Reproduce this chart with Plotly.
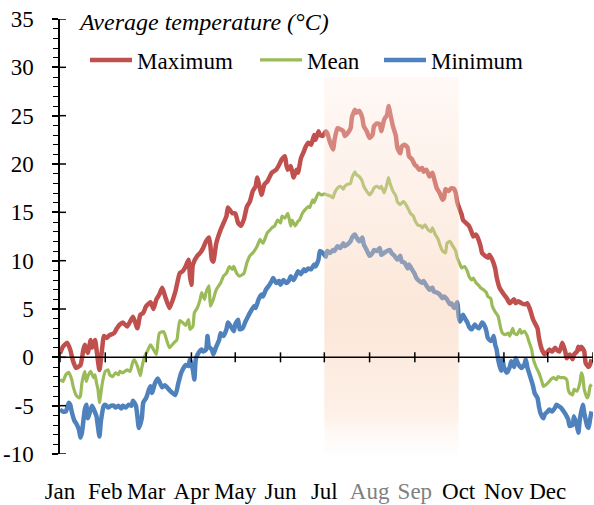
import plotly.graph_objects as go

# ---------------- data ----------------
max_days = [0, 2, 5, 7, 9, 11, 14, 16, 17, 19,
            21, 22, 24, 25, 27, 29, 30, 32, 34, 37,
            39, 41, 43, 46, 48, 50, 53, 55, 57, 59,
            62, 64, 66, 68, 70, 72, 75, 79, 82, 84,
            86, 88, 89, 90, 91, 94, 96, 98, 100, 102,
            103, 104, 105, 107, 110, 112, 114, 115, 118, 120,
            122, 124, 126, 128, 130, 132, 134, 135, 137, 138,
            140, 142, 145, 146, 148, 150, 152, 154, 155, 156,
            158, 160, 162, 163, 165, 167, 168, 170, 172, 174,
            175, 177, 178, 180, 182, 183, 185, 187, 188, 190,
            192, 194, 195, 197, 199, 200, 202, 203, 205, 207,
            208, 210, 212, 214, 215, 217, 219, 220, 222, 224,
            225, 226, 228, 230, 231, 233, 234, 236, 238, 239,
            241, 243, 244, 246, 248, 249, 251, 253, 255, 256,
            258, 260, 262, 263, 264, 266, 268, 270, 271, 272,
            273, 275, 276, 278, 280, 282, 283, 285, 286, 288,
            289, 291, 293, 294, 296, 298, 299, 301, 304, 306,
            308, 311, 312, 314, 316, 319, 320, 322, 324, 327,
            328, 330, 332, 334, 335, 337, 339, 340, 342, 344,
            346, 347, 349, 351, 352, 354, 355, 356, 357, 359,
            360, 362, 363, 364]
max_vals = [0.4, 1.1, 1.5, 0.8, -0.4, -1.1, -0.8, 0.8, 1.3, 0.45,
            1.8, 1.0, 1.8, 0.8, -1.3, 1.1, 2.2, 2.0, 2.3, 2.5,
            3.0, 3.4, 3.6, 3.2, 3.7, 4.2, 3.0, 4.4, 4.6, 5.3,
            5.7, 5.0, 6.0, 6.5, 7.2, 6.3, 5.1, 6.8, 8.7, 8.9,
            9.4, 10.1, 8.4, 7.5, 9.6, 10.5, 10.8, 11.3, 12.0, 12.4,
            11.5, 10.1, 9.9, 11.8, 13.2, 13.9, 14.6, 15.5, 14.9, 14.9,
            13.9, 13.6, 14.3, 15.6, 16.1, 17.2, 17.7, 18.6, 17.4, 16.8,
            17.9, 18.2, 19.1, 19.2, 19.4, 19.9, 20.5, 20.8, 19.9, 19.4,
            19.8, 18.6, 19.4, 19.1, 20.6, 21.3, 21.7, 22.2, 22.0, 23.0,
            22.5, 23.4, 23.0, 22.9, 23.4, 23.2, 22.2, 21.5, 22.5, 23.7,
            23.6, 23.4, 22.9, 23.2, 23.7, 24.9, 25.6, 25.3, 25.5, 24.8,
            23.9, 23.4, 22.7, 23.0, 23.9, 24.2, 24.1, 23.4, 24.6, 25.1,
            26.0, 25.3, 23.9, 22.9, 21.7, 21.1, 21.8, 22.0, 21.7, 20.8,
            20.5, 19.9, 19.8, 19.4, 19.6, 19.2, 19.4, 18.7, 19.1, 18.6,
            17.5, 17.0, 16.3, 16.5, 17.4, 17.2, 17.5, 17.4, 17.0, 16.1,
            15.6, 14.8, 14.2, 13.9, 13.6, 12.9, 12.5, 12.7, 12.4, 11.5,
            10.8, 10.5, 10.3, 10.6, 10.1, 9.2, 8.3, 7.2, 6.5, 6.1,
            5.6, 6.0, 5.6, 5.8, 5.6, 5.5, 5.6, 4.9, 3.9, 3.0,
            2.0, 0.8, 0.3, 0.6, 0.8, 0.6, 1.0, 0.8, 0.6, 1.5,
            0.6, -0.1, 0.3, -0.2, 0.3, 0.6, 1.1, 0.8, 1.1, 0.6,
            -0.6, -1.0, -0.75, -0.2]

mean_days = [0, 2, 4, 6, 8, 9, 11, 13, 14, 15,
             17, 18, 19, 21, 23, 24, 25, 26, 27, 29,
             31, 33, 34, 36, 38, 40, 41, 43, 46, 48,
             50, 51, 53, 55, 56, 58, 60, 62, 64, 66,
             68, 71, 73, 75, 78, 80, 82, 84, 86, 88,
             89, 91, 92, 94, 96, 97, 99, 100, 102, 103,
             105, 107, 110, 112, 114, 116, 118, 119, 121, 123,
             126, 128, 130, 132, 135, 137, 139, 142, 144, 145,
             147, 149, 151, 152, 154, 156, 158, 159, 161, 163,
             164, 166, 168, 170, 171, 173, 174, 176, 177, 179,
             181, 183, 185, 187, 188, 190, 192, 194, 195, 197,
             199, 200, 202, 203, 205, 207, 208, 210, 212, 214,
             215, 217, 219, 220, 222, 224, 225, 226, 228, 230,
             231, 233, 235, 236, 238, 240, 242, 243, 245, 247,
             248, 250, 252, 254, 255, 257, 259, 260, 262, 264,
             265, 267, 269, 271, 272, 274, 275, 277, 279, 280,
             282, 283, 285, 287, 288, 290, 292, 293, 295, 296,
             298, 300, 302, 303, 305, 307, 308, 310, 311, 313,
             315, 316, 318, 320, 321, 323, 324, 326, 328, 330,
             331, 333, 335, 336, 338, 340, 341, 343, 345, 347,
             348, 349, 351, 352, 354, 356, 357, 358, 359, 361,
             362, 363, 364]
mean_vals = [-2.3, -2.5, -1.8, -1.55, -2.3, -3.0, -3.9, -4.2, -4.0, -2.65,
             -1.45, -2.5, -2.0, -1.45, -2.1, -1.8, -2.65, -3.3, -4.7, -2.65,
             -1.45, -1.3, -1.8, -2.0, -1.6, -1.8, -1.45, -1.6, -1.3, -1.45,
             -0.4, -0.25, -0.9, -1.9, -1.1, 0.1, 0.7, 1.3, 0.8, 0.3,
             2.5, 2.65, 1.8, 1.0, 1.5, 1.8, 3.8, 3.6, 3.3, 3.9,
             2.9, 3.2, 4.6, 5.1, 6.0, 6.7, 6.0, 6.7, 7.4, 5.3,
             6.0, 7.0, 7.7, 8.4, 8.7, 9.4, 9.1, 9.4, 8.7, 8.4,
             8.7, 9.8, 10.5, 10.8, 11.5, 12.2, 11.8, 12.9, 13.2, 13.4,
             13.6, 14.2, 13.9, 14.6, 14.4, 14.9, 13.6, 14.2, 13.6, 14.1,
             14.2, 14.9, 15.3, 15.6, 15.5, 16.3, 16.0, 16.7, 17.0, 16.8,
             16.9, 16.8, 16.7, 16.5, 17.0, 17.5, 17.7, 17.4, 17.7, 17.9,
             18.0, 18.6, 19.2, 18.9, 18.7, 18.2, 17.7, 17.2, 16.8, 17.2,
             17.5, 17.7, 17.5, 17.7, 17.0, 18.0, 18.6, 18.0, 17.2, 16.7,
             16.1, 15.8, 16.1, 16.0, 15.5, 14.9, 14.6, 14.2, 13.7, 13.6,
             13.4, 13.7, 13.2, 13.0, 13.4, 12.7, 12.2, 11.7, 11.0, 10.8,
             11.8, 12.0, 11.5, 11.0, 10.3, 9.6, 9.25, 9.4, 8.9, 8.4,
             8.0, 8.2, 7.7, 7.4, 7.2, 7.0, 6.7, 6.3, 6.1, 5.3,
             4.7, 4.25, 2.9, 2.5, 2.35, 2.5, 2.2, 3.0, 2.5, 2.35,
             2.9, 2.5, 2.7, 2.2, 1.7, 0.8, -0.1, -1.0, -1.6, -2.5,
             -3.0, -2.8, -2.5, -2.3, -2.1, -2.3, -2.0, -2.1, -2.1, -2.3,
             -3.3, -3.7, -3.9, -3.3, -3.5, -2.65, -1.6, -2.0, -3.3, -4.2,
             -3.9, -3.0, -2.8]

min_days = [0, 2, 4, 6, 7, 8, 10, 11, 13, 14,
            15, 17, 18, 19, 21, 22, 24, 25, 27, 28,
            30, 31, 33, 35, 37, 38, 40, 42, 43, 45,
            47, 49, 50, 52, 53, 54, 56, 57, 59, 61,
            62, 63, 65, 67, 70, 72, 75, 79, 81, 83,
            86, 88, 89, 91, 92, 93, 95, 97, 98, 100,
            101, 102, 104, 105, 107, 109, 110, 112, 114, 115,
            117, 119, 120, 122, 123, 125, 127, 129, 130, 133,
            134, 136, 138, 139, 141, 143, 145, 146, 148, 150,
            151, 153, 155, 157, 158, 160, 162, 163, 165, 167,
            168, 170, 172, 174, 175, 177, 178, 180, 182, 183,
            185, 187, 188, 190, 192, 194, 195, 197, 199, 200,
            202, 203, 205, 207, 208, 210, 212, 214, 215, 217,
            219, 220, 222, 224, 226, 227, 229, 231, 233, 234,
            236, 238, 239, 241, 243, 244, 246, 248, 249, 251,
            253, 255, 256, 258, 260, 262, 263, 265, 267, 268,
            270, 272, 273, 274, 276, 277, 279, 280, 282, 284,
            285, 287, 289, 291, 292, 293, 295, 296, 297, 298,
            299, 300, 302, 303, 304, 306, 308, 309, 311, 312,
            314, 316, 318, 319, 320, 322, 324, 325, 327, 328,
            329, 331, 332, 334, 335, 337, 339, 340, 342, 343,
            345, 347, 348, 349, 351, 352, 354, 355, 356, 358,
            359, 361, 362, 363, 364]
min_vals = [-5.4, -5.6, -5.6, -4.7, -4.9, -5.6, -6.6, -6.8, -7.5, -8.3,
            -7.8, -5.4, -4.9, -6.3, -5.4, -5.0, -5.7, -6.1, -8.2, -6.6,
            -5.0, -4.9, -5.2, -5.0, -5.0, -5.2, -5.0, -5.3, -5.0, -5.2,
            -4.9, -5.0, -4.5, -5.0, -6.1, -7.3, -6.3, -4.7, -4.2, -3.3,
            -3.0, -3.7, -2.7, -2.2, -3.1, -2.9, -3.4, -3.9, -2.7, -1.6,
            -0.8, -0.9, -0.2, -1.3, -2.3, -0.2, 0.5, 0.8, 0.6, 0.8,
            2.2, 1.1, 0.8, 0.3, 1.1, 1.8, 2.5, 2.2, 2.9, 3.6,
            3.2, 2.7, 3.4, 3.9, 2.9, 3.0, 3.7, 4.3, 4.6, 5.3,
            5.1, 6.0, 6.5, 6.3, 7.0, 7.4, 7.9, 8.2, 7.7, 7.9,
            7.5, 8.0, 7.7, 8.0, 8.4, 8.0, 8.6, 8.9, 8.6, 9.1,
            8.9, 9.2, 9.1, 9.6, 9.4, 10.1, 11.0, 10.8, 10.4, 11.0,
            10.8, 11.1, 11.0, 11.5, 11.3, 11.8, 11.5, 11.7, 12.0, 12.4,
            12.7, 12.4, 12.0, 12.4, 11.7, 11.1, 10.5, 10.8, 11.1, 11.0,
            11.3, 10.6, 10.8, 11.0, 11.1, 10.8, 10.5, 10.1, 10.5, 9.9,
            9.8, 9.2, 9.6, 9.1, 8.6, 8.2, 7.9, 7.7, 7.9, 7.4,
            7.0, 7.2, 6.8, 6.7, 6.5, 6.1, 6.3, 6.0, 5.5, 5.6,
            5.1, 5.7, 4.25, 3.7, 4.4, 4.1, 3.6, 3.2, 2.9, 3.4,
            3.2, 3.0, 3.6, 3.2, 2.7, 2.0, 1.7, 1.8, 2.2, 1.3,
            0.8, -0.2, -1.4, -0.2, -1.0, -1.6, -1.0, -0.4, -1.0, -0.1,
            -0.75, -1.1, -0.75, -0.2, -1.0, -2.0, -3.0, -3.7, -4.2, -5.1,
            -5.75, -6.3, -5.9, -5.6, -5.4, -5.6, -5.2, -4.9, -5.1, -5.2,
            -5.6, -6.1, -6.4, -7.1, -7.0, -6.1, -7.1, -7.8, -6.4, -4.9,
            -5.75, -7.1, -7.3, -6.4, -5.6]

month_starts = [0, 31, 59, 90, 120, 151, 181, 212, 243, 273, 304, 334, 365]
month_labels = ["Jan", "Feb", "Mar", "Apr", "May", "Jun",
                "Jul", "Aug", "Sep", "Oct", "Nov", "Dec"]
grey_months = ["Aug", "Sep"]
y_ticks = [-10, -5, 0, 5, 10, 15, 20, 25, 30, 35]
y_labels = ["-10", "-5", "0", "5", "10", "15", "20", "25", "30", "35"]
summer_start, summer_end = 181, 273     # Jul 1 .. Oct 1
shade_bottom, shade_top = -12, 29

# ---------------- styling ----------------
FONT = "'Liberation Serif', Tinos, 'Times New Roman', 'DejaVu Serif', serif"
RED, GREEN, BLUE = "#C0504D", "#9BBB59", "#4F81BD"
W, H = 594, 505
ML, MR, MT, MB = 60, 1, 19, 51
PW, PH = W - ML - MR, H - MT - MB


def px_to_paper_x(px):
    return (px - ML) / PW


def px_to_paper_y(py):
    return (H - MB - py) / PH


fig = go.Figure()
fig.add_trace(go.Scatter(x=max_days, y=max_vals, name="Maximum", mode="lines",
                         line=dict(color=RED, width=4.5, shape="spline", smoothing=0.5),
                         legend="legend"))
fig.add_trace(go.Scatter(x=mean_days, y=mean_vals, name="Mean", mode="lines",
                         line=dict(color=GREEN, width=3.2, shape="spline", smoothing=0.5),
                         legend="legend2"))
fig.add_trace(go.Scatter(x=min_days, y=min_vals, name="Minimum", mode="lines",
                         line=dict(color=BLUE, width=4.5, shape="spline", smoothing=0.5),
                         legend="legend3"))

# summer highlight, drawn over the lines with a vertical gradient
fig.add_trace(go.Scatter(
    x=[summer_start, summer_end, summer_end, summer_start],
    y=[shade_bottom, shade_bottom, shade_top, shade_top],
    mode="lines", fill="toself", line=dict(width=0),
    fillgradient=dict(type="vertical", colorscale=[
        [0.0, "rgba(255,255,255,0)"],
        [0.15, "rgba(250,214,190,0.36)"],
        [0.4, "rgba(247,194,158,0.40)"],
        [0.75, "rgba(250,218,198,0.36)"],
        [1.0, "rgba(255,238,230,0.38)"]]),
    showlegend=False, hoverinfo="skip"))

shapes = []
# horizontal axis line at 0
shapes.append(dict(type="line", xref="x", yref="y", x0=month_starts[0], x1=month_starts[-1],
                   y0=0, y1=0, line=dict(color="black", width=1.5), layer="above"))
# month ticks crossing the zero line
for m in month_starts:
    shapes.append(dict(type="line", xref="x", yref="y", x0=m, x1=m,
                       ysizemode="pixel", yanchor=0, y0=-5, y1=5,
                       line=dict(color="black", width=1.5), layer="above"))
# inner half of the major y ticks
for v in y_ticks:
    shapes.append(dict(type="line", xref="x", yref="y", xsizemode="pixel", xanchor=0,
                       x0=0, x1=6, y0=v, y1=v,
                       line=dict(color="black", width=1.5), layer="above"))

tick_text = [f'<span style="color:#808080">{m}</span>' if m in grey_months else m
             for m in month_labels]

legend_common = dict(orientation="h", yanchor="middle", xanchor="left",
                     y=px_to_paper_y(60), bgcolor="rgba(0,0,0,0)", borderwidth=0,
                     font=dict(family=FONT, size=23, color="black"), itemwidth=42)

fig.update_layout(
    width=W, height=H, autosize=False,
    margin=dict(l=ML, r=MR, t=MT, b=MB, pad=0, autoexpand=False),
    paper_bgcolor="white", plot_bgcolor="rgba(0,0,0,0)",
    font=dict(family=FONT, size=23, color="black"),
    hovermode=False,
    xaxis=dict(range=[month_starts[0], month_starts[-1]], tickmode="array",
               tickvals=month_starts[:-1], ticktext=tick_text, automargin=False,
               showgrid=False, zeroline=False, showline=False, ticks="",
               ticklabelstandoff=21, tickfont=dict(family=FONT, size=23, color="black")),
    yaxis=dict(range=[-10, 35], tickmode="array", tickvals=y_ticks, ticktext=y_labels,
               automargin=False,
               showgrid=False, zeroline=False, showline=True, linecolor="black",
               linewidth=1.5, ticks="outside", ticklen=6, tickwidth=1.5, tickcolor="black",
               minor=dict(ticks="outside", ticklen=5, tickwidth=1.2, tickcolor="black",
                          tickmode="linear", tick0=-10, dtick=1, showgrid=False),
               ticklabelstandoff=14, tickfont=dict(family=FONT, size=23, color="black")),
    legend=dict(legend_common, x=px_to_paper_x(85)),
    legend2=dict(legend_common, x=px_to_paper_x(255)),
    legend3=dict(legend_common, x=px_to_paper_x(379)),
    shapes=shapes,
    annotations=[dict(text="<i>Average temperature (°C)</i>", xref="paper", yref="paper",
                      x=px_to_paper_x(76), y=px_to_paper_y(22), xanchor="left",
                      yanchor="middle", showarrow=False,
                      font=dict(family=FONT, size=24, color="black"))],
)

fig.write_html("out.html", config={"displayModeBar": False},
               post_script="document.body.style.margin='0';document.body.style.padding='0';")
